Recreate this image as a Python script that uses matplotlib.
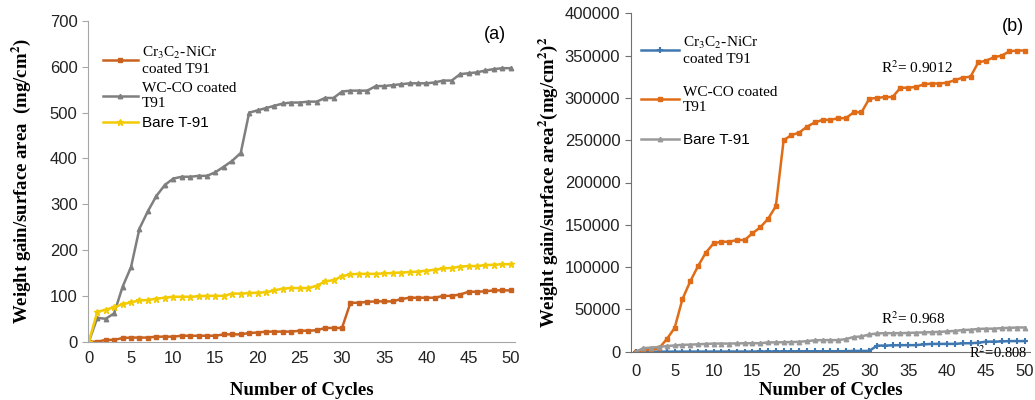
import matplotlib
matplotlib.use("Agg")
import matplotlib.pyplot as plt

# cycles 0..50
cycles = list(range(51))

# (a) weight gain per unit area, mg/cm2
cr_a = [0, 0, 4, 4, 8, 9, 9, 9, 11, 11, 11, 13, 13, 13, 13, 13, 16, 16, 16, 19,
        20, 22, 22, 22, 22, 24, 24, 25, 30, 30, 30, 85, 85, 87, 88, 88, 88, 93, 96, 96,
        96, 96, 100, 100, 103, 109, 109, 110, 112, 112, 112]
wc_a = [0, 52, 50, 62, 120, 163, 247, 285, 318, 342, 356, 360, 360, 362, 362, 370, 382, 395, 412, 500,
        505, 510, 515, 520, 522, 522, 524, 524, 532, 532, 546, 548, 548, 548, 558, 558, 560, 562, 564, 564,
        564, 566, 570, 570, 584, 586, 588, 592, 595, 597, 597]
bare_a = [0, 65, 70, 75, 82, 86, 90, 91, 94, 96, 98, 98, 98, 99, 100, 100, 100, 105, 105, 106,
          107, 108, 112, 116, 117, 117, 117, 122, 132, 134, 143, 147, 148, 148, 148, 149, 150, 151, 152, 153,
          155, 157, 160, 161, 164, 165, 165, 167, 168, 169, 169]

# (b) squared weight gain, (mg/cm2)^2
cr_b = [0, 0, 16, 16, 64, 81, 81, 81, 121, 121, 121, 169, 169, 169, 169, 169, 256, 256, 256, 361,
        400, 484, 484, 484, 484, 576, 576, 625, 900, 900, 900, 7225, 7225, 7569, 7744, 7744, 7744, 8649, 9216, 9216,
        9216, 9216, 10000, 10000, 10609, 11881, 11881, 12100, 12544, 12544, 12544]
wc_b = [0, 2000, 2500, 4000, 15000, 28000, 62000, 83000, 101000, 117000, 128000, 130000, 130000, 132000, 132000,
        140000, 147000, 157000, 172000, 250000, 256000, 259000, 266000, 271000, 274000, 274000, 276000, 276000,
        283000, 283000, 299000, 300000, 301000, 301000, 312000, 312000, 313000, 316000, 317000, 317000, 318000,
        321000, 324000, 325000, 342000, 344000, 348000, 350000, 355000, 356000, 356000]
bare_b = [0, 4200, 4900, 5600, 6700, 7400, 8100, 8300, 8800, 9200, 9600, 9600, 9600, 9800, 10000, 10000, 10000,
          11000, 11000, 11200, 11400, 11700, 12500, 13500, 13700, 13700, 13700, 14900, 17400, 18000, 20400, 21600,
          21900, 21900, 21900, 22200, 22500, 22800, 23100, 23400, 24000, 24600, 25600, 25900, 26900, 27200, 27200,
          27900, 28200, 28600, 28600]

xticks = list(range(0, 51, 5))

plt.rcParams['font.family'] = ['Liberation Sans', 'DejaVu Sans']
plt.rcParams['mathtext.fontset'] = 'stix'

fig = plt.figure(figsize=(10.35, 4.0), dpi=100)
W, H = 1035.0, 400.0
ax1 = fig.add_axes([88 / W, 1 - 341.7 / H, (515 - 88) / W, (341.7 - 21) / H])
ax2 = fig.add_axes([630.7 / W, 1 - 351.7 / H, (1030 - 630.7) / W, (351.7 - 13.3) / H])

serif = ['Liberation Serif', 'DejaVu Serif']
lab_font = dict(family=serif, weight='bold', size=13.5)

# ---- panel (a)
ax1.plot(cycles, cr_a, color='#C9621F', lw=1.8, marker='s', ms=3.2,
         label='Cr$_3$C$_2$-NiCr\ncoated T91')
ax1.plot(cycles, wc_a, color='#7F7F7F', lw=1.8, marker='^', ms=3.2,
         label='WC-CO coated\nT91')
ax1.plot(cycles, bare_a, color='#F2CB05', lw=1.8, marker='*', ms=4.5,
         label='Bare T-91')
ax1.set_xlim(-0.1, 50.5)
ax1.set_ylim(0, 700)
ax1.set_yticks(range(0, 701, 100))
ax1.set_xticks(xticks)
ax1.set_xlabel('Number of Cycles', fontdict=lab_font, labelpad=11)
ax1.set_ylabel(r'Weight gain/surface area  (mg/cm$\mathbf{^2}$)', fontdict=lab_font, labelpad=12)
ax1.text(0.98, 0.985, '(a)', transform=ax1.transAxes, ha='right', va='top', fontsize=13)

leg1 = ax1.legend(loc='upper left', bbox_to_anchor=(0.02, 0.945), frameon=False, fontsize=11,
                  handlelength=2.3, handletextpad=0.25, labelspacing=0.4, borderaxespad=0)
for t in leg1.get_texts()[:2]:
    t.set_fontfamily(serif)

# ---- panel (b)
ax2.plot(cycles, cr_b, color='#3F78B0', lw=1.8, marker='+', ms=4, mew=1.5,
         label='Cr$_3$C$_2$-NiCr\ncoated T91')
ax2.plot(cycles, wc_b, color='#E06C17', lw=1.8, marker='s', ms=3.2,
         label='WC-CO coated\nT91')
ax2.plot(cycles, bare_b, color='#9A9A9A', lw=1.8, marker='^', ms=3.2,
         label='Bare T-91')
ax2.set_xlim(-0.64, 50.64)
ax2.set_ylim(0, 400000)
ax2.set_yticks(range(0, 400001, 50000))
ax2.set_xticks(xticks)
ax2.set_xlabel('Number of Cycles', fontdict=lab_font, labelpad=2)
ax2.set_ylabel(r'Weight gain/surface area$\mathbf{^2}$(mg/cm$\mathbf{^2}$)$\mathbf{^2}$',
               fontdict=lab_font, labelpad=3)
ax2.text(0.985, 0.985, '(b)', transform=ax2.transAxes, ha='right', va='top', fontsize=13)

leg2 = ax2.legend(loc='upper left', bbox_to_anchor=(0.01, 0.955), frameon=False, fontsize=11,
                  handlelength=2.5, handletextpad=0.25, labelspacing=1.3, borderaxespad=0)
for t in leg2.get_texts()[:2]:
    t.set_fontfamily(serif)

# R squared notes
ax2.text(31.5, 329000, 'R$^2$= 0.9012', family=serif, fontsize=11)
ax2.text(31.5, 33000, 'R$^2$= 0.968', family=serif, fontsize=11)
ax2.text(42.8, -7500, 'R$^2$=0.808', family=serif, fontsize=10.5)

for ax, sc in ((ax1, '#A6A6A6'), (ax2, '#707070')):
    ax.spines['top'].set_visible(False)
    ax.spines['right'].set_visible(False)
    ax.spines['left'].set_color(sc)
    ax.spines['bottom'].set_color(sc)
    ax.tick_params(axis='both', labelsize=12, colors='#222222')
    ax.tick_params(axis='y', length=4, color=sc)
    ax.tick_params(axis='x', length=0, pad=7)
ax2.tick_params(axis='x', pad=9)

plt.savefig('out.png', dpi=100)
